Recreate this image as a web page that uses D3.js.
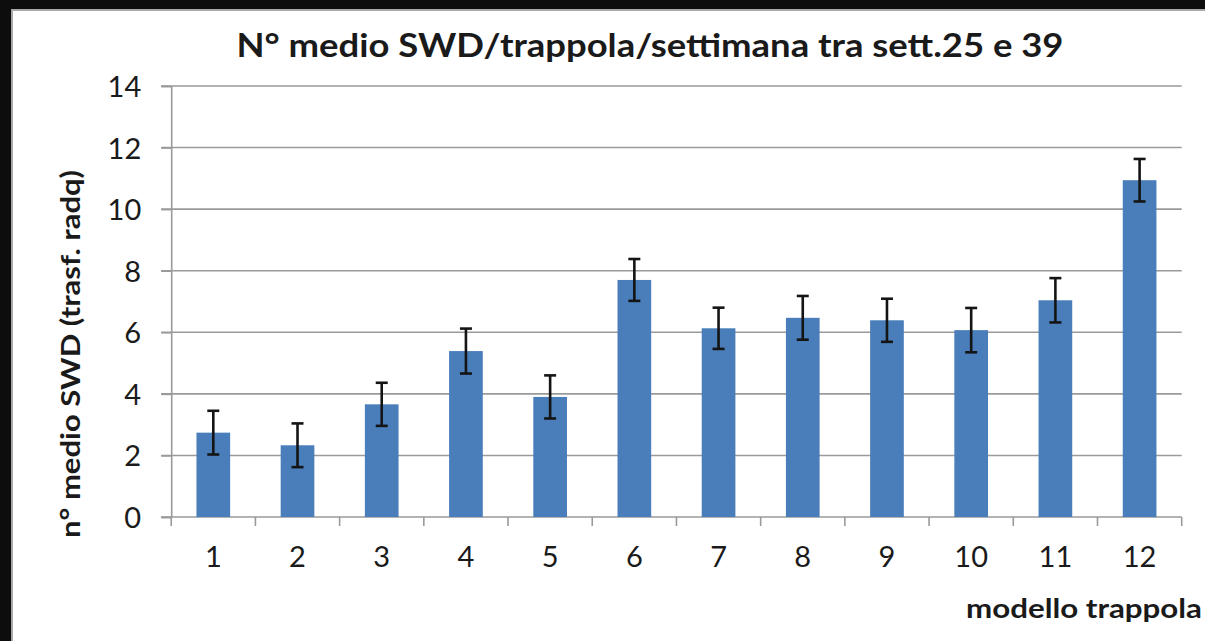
<!DOCTYPE html>
<html><head><meta charset="utf-8">
<script src="https://cdnjs.cloudflare.com/ajax/libs/d3/7.8.5/d3.min.js"></script>
<style>html,body{margin:0;padding:0;background:#fff;overflow:hidden;}svg{display:block;}</style>
</head><body>
<script>
const categories = ["1","2","3","4","5","6","7","8","9","10","11","12"];
const values = [2.74, 2.33, 3.66, 5.39, 3.90, 7.70, 6.13, 6.47, 6.39, 6.07, 7.04, 10.94];
const errors = [0.71, 0.71, 0.70, 0.73, 0.70, 0.68, 0.67, 0.71, 0.70, 0.72, 0.72, 0.69];
const yTicks = [0, 2, 4, 6, 8, 10, 12, 14];
const title = "N° medio SWD/trappola/settimana tra sett.25 e 39";
const yTitle = "n° medio SWD (trasf. radq)";
const xTitle = "modello trappola";

(function () {
const W = 1205, H = 641;
const font = "Lato, 'Open Sans', sans-serif";
const svg = d3.select("body").append("svg").attr("width", W).attr("height", H);

// frame: white page, dark band top and left with a thin grey inner edge
svg.append("rect").attr("x",0).attr("y",0).attr("width",W).attr("height",H).attr("fill","#ffffff");
svg.append("rect").attr("x",0).attr("y",0).attr("width",W).attr("height",11).attr("fill","#a8a8a8");
svg.append("rect").attr("x",0).attr("y",0).attr("width",13).attr("height",H).attr("fill","#a8a8a8");
svg.append("rect").attr("x",0).attr("y",0).attr("width",W).attr("height",9).attr("fill","#0d0d0d");
svg.append("rect").attr("x",0).attr("y",0).attr("width",11).attr("height",H).attr("fill","#0d0d0d");

const pl = 171.2, pr = 1181.7, pt = 86, pb = 517;
const x = d3.scaleBand().domain(categories).range([pl, pr]).paddingInner(0.6).paddingOuter(0.3);
const y = d3.scaleLinear().domain([0, 14]).range([pb, pt]);

// gridlines
svg.append("g").selectAll("line").data(yTicks.filter(d => d > 0)).join("line")
  .attr("x1", pl - 10).attr("x2", pr)
  .attr("y1", d => y(d)).attr("y2", d => y(d))
  .attr("stroke", "#9a9a9a").attr("stroke-width", 1.6);

// y axis
const yAxis = d3.axisLeft(y).tickValues(yTicks).tickSize(10).tickPadding(20).tickFormat(d3.format("d"));
const gy = svg.append("g").attr("transform", `translate(${pl},0)`).call(yAxis);
gy.select(".domain").attr("stroke", "#9a9a9a").attr("stroke-width", 1.6);
gy.selectAll(".tick line").attr("stroke", "#9a9a9a").attr("stroke-width", 1.6);
gy.selectAll(".tick text").attr("font-family", font).attr("font-size", 29).attr("fill", "#1a1a1a").attr("dy", "0.36em");

// x axis line & ticks at band boundaries
const bounds = d3.range(categories.length + 1).map(i => pl + i * (pr - pl) / categories.length);
svg.append("line").attr("x1", pl - 10).attr("x2", pr).attr("y1", pb).attr("y2", pb)
  .attr("stroke", "#9a9a9a").attr("stroke-width", 1.6);
svg.append("g").selectAll("line").data(bounds).join("line")
  .attr("x1", d => d).attr("x2", d => d).attr("y1", pb).attr("y2", pb + 9)
  .attr("stroke", "#9a9a9a").attr("stroke-width", 1.6);

// x labels
svg.append("g").selectAll("text").data(categories).join("text")
  .attr("x", d => x(d) + x.bandwidth() / 2).attr("y", 567)
  .attr("text-anchor", "middle").attr("font-family", font).attr("font-size", 29).attr("fill", "#1a1a1a")
  .text(d => d);

// bars
svg.append("g").selectAll("rect").data(values).join("rect")
  .attr("x", (d, i) => x(categories[i])).attr("width", x.bandwidth())
  .attr("y", d => y(d)).attr("height", d => pb - y(d))
  .attr("fill", "#4a7ebb");

// error bars
const eb = svg.append("g").attr("stroke", "#141414").attr("stroke-width", 2.6);
values.forEach((v, i) => {
  const cx = x(categories[i]) + x.bandwidth() / 2;
  const hi = y(v + errors[i]), lo = y(v - errors[i]);
  eb.append("line").attr("x1", cx).attr("x2", cx).attr("y1", hi).attr("y2", lo);
  eb.append("line").attr("x1", cx - 6).attr("x2", cx + 6).attr("y1", hi).attr("y2", hi);
  eb.append("line").attr("x1", cx - 6).attr("x2", cx + 6).attr("y1", lo).attr("y2", lo);
});

// title
svg.append("text").attr("x", 650).attr("y", 57).attr("text-anchor", "middle")
  .attr("font-family", font).attr("font-weight", "bold").attr("font-size", 33).attr("fill", "#1a1a1a")
  .attr("textLength", 827).attr("lengthAdjust", "spacingAndGlyphs").text(title);

// y title
svg.append("text").attr("transform", "translate(80,354) rotate(-90)").attr("text-anchor", "middle")
  .attr("font-family", font).attr("font-weight", "bold").attr("font-size", 27).attr("fill", "#1a1a1a")
  .attr("textLength", 368).attr("lengthAdjust", "spacingAndGlyphs").text(yTitle);

// x title
svg.append("text").attr("x", 1202).attr("y", 618).attr("text-anchor", "end")
  .attr("font-family", font).attr("font-weight", "bold").attr("font-size", 27).attr("fill", "#1a1a1a")
  .attr("textLength", 236).attr("lengthAdjust", "spacingAndGlyphs").text(xTitle);
})();
</script>
</body></html>
